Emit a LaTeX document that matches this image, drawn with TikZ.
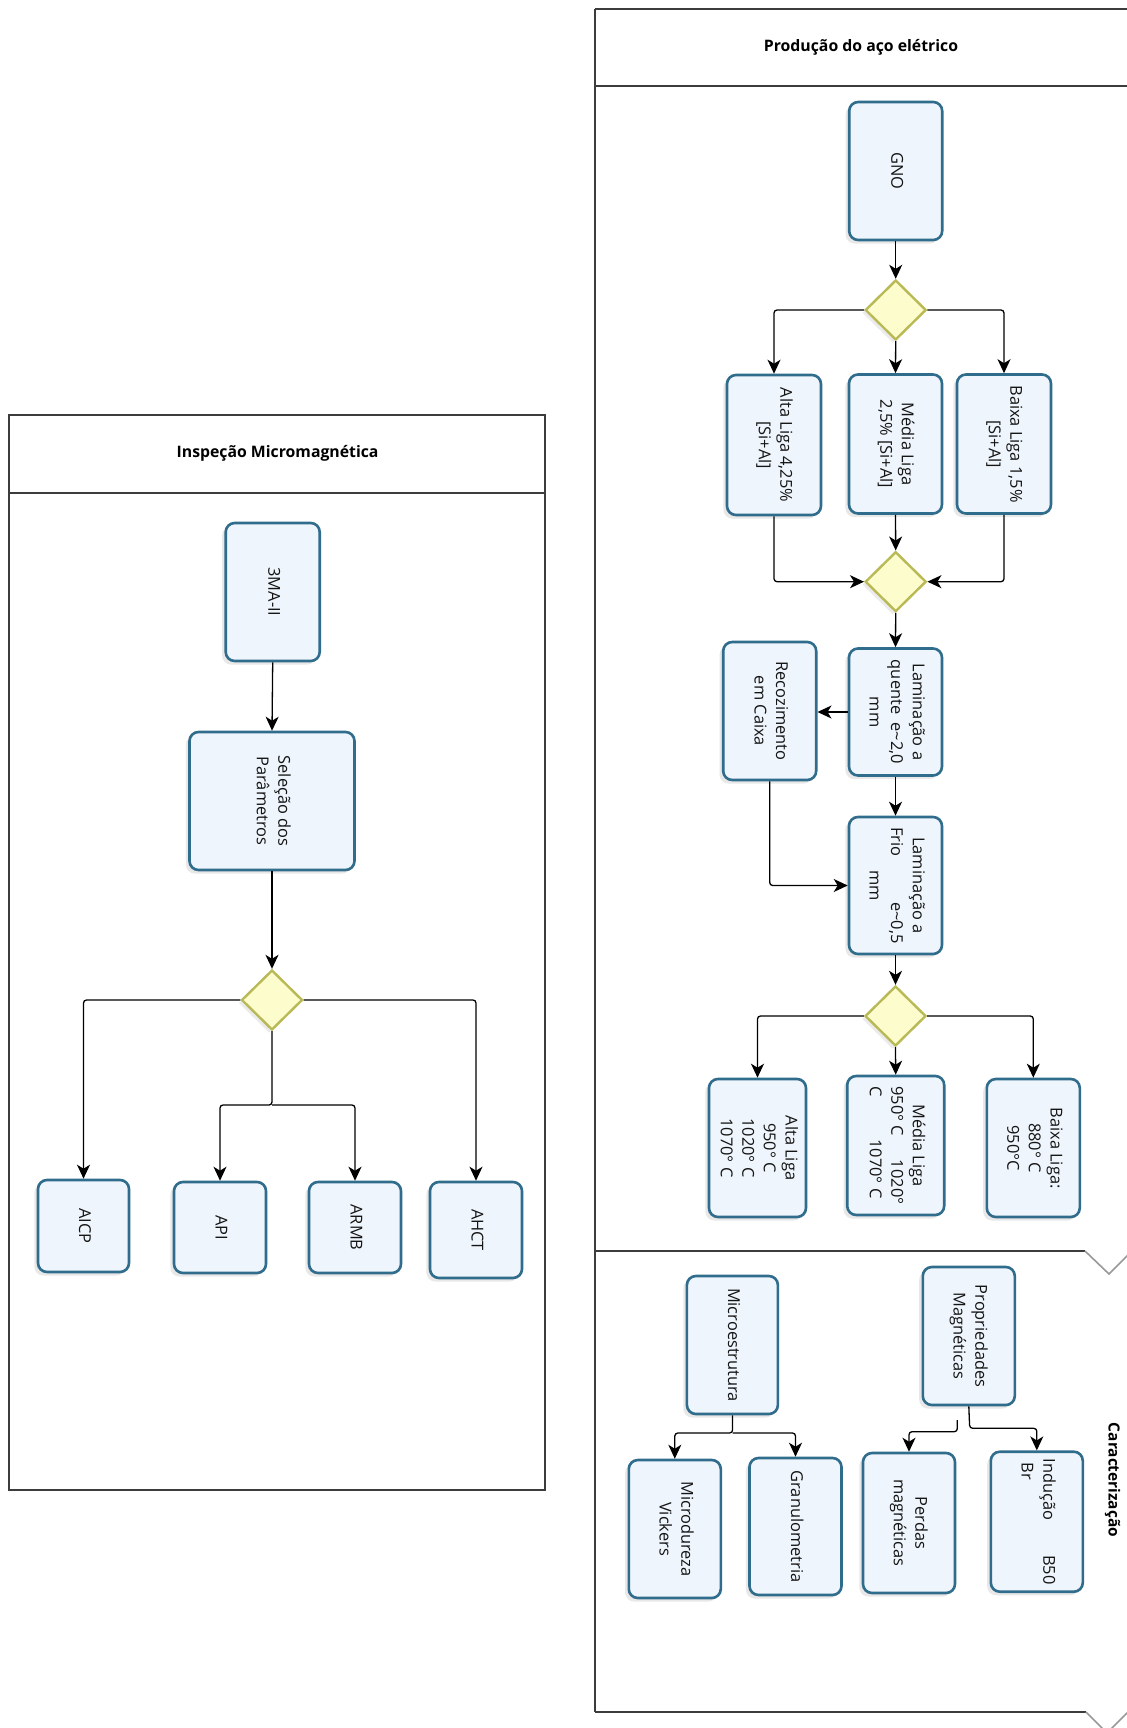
\documentclass[tikz,border=0pt]{standalone}
\usepackage{fontspec}
\usepackage{graphicx}
\setmainfont{Open Sans}
\usetikzlibrary{arrows.meta,shapes.geometric,shadows}
\definecolor{boxblue}{RGB}{48,108,140}
\definecolor{boxfill}{RGB}{238,245,252}
\definecolor{dmdline}{RGB}{185,185,85}
\definecolor{dmdfill}{RGB}{252,252,205}
\definecolor{lanegray}{RGB}{60,60,60}
\newcommand\vtxt[1]{\rotatebox{-90}{\begin{tabular}{@{}c@{}}#1\end{tabular}}}
\newcommand\vtxtl[1]{\rotatebox{-90}{\begin{tabular}{@{}l@{}}#1\end{tabular}}}
\tikzset{
  box/.style={draw=boxblue, line width=1.3pt, rounded corners=4.5pt, fill=boxfill,
    inner sep=0pt, font=\fontsize{8.2}{10.8}\selectfont, text=black!92,
    drop shadow={shadow xshift=-1.8pt, shadow yshift=-1.8pt, opacity=1, fill=black!9}},
  dmd/.style={diamond, draw=dmdline, line width=1.2pt, fill=dmdfill,
    minimum width=30.5pt, minimum height=30pt, inner sep=0pt,
    drop shadow={shadow xshift=-1.5pt, shadow yshift=-1.5pt, opacity=1, fill=black!8}},
  arr/.style={draw=black, line width=0.65pt, rounded corners=1.5pt,
    -{Stealth[length=7pt,width=6.5pt,inset=2pt]}},
  lane/.style={draw=lanegray, line width=1pt},
  chev/.style={draw=black!40, line width=0.8pt},
  ttl/.style={font=\bfseries\fontsize{7.9}{9}\selectfont, text=black}
}
\begin{document}
\begin{tikzpicture}[x=0.5pt,y=-0.5pt]
\useasboundingbox (0,0) rectangle (1127,1728);
\clip (0,0) rectangle (1127,1728);
\fill[white] (0,0) rectangle (1127,1728);

% ---------- left pool ----------
\draw[lane] (9,415) rectangle (545,1489.5);
\draw[lane] (9,492.5) -- (545,492.5);
\node[ttl] (tleft) at (277.6,453) {Inspeção Micromagnética};

\node[box, minimum width=47pt, minimum height=69pt] (ma) at (272.7,592) {\vtxt{3MA-II}};
\node[box, minimum width=82.5pt, minimum height=69pt] (sel) at (272,801) {\vtxt{Seleção dos\\Parâmetros}};
\node[dmd] (dl) at (272,1000) {};
\node[box, minimum width=45.5pt, minimum height=46pt] (aicp) at (83.5,1226) {\vtxt{AICP}};
\node[box, minimum width=46pt, minimum height=45.5pt] (api) at (220,1227.5) {\vtxt{API}};
\node[box, minimum width=46pt, minimum height=45.5pt] (armb) at (355,1227.5) {\vtxt{ARMB}};
\node[box, minimum width=46pt, minimum height=48pt] (ahct) at (476,1230) {\vtxt{AHCT}};
\coordinate (jl) at (272,1105);

\draw[arr] (ma.south) -- (sel.north);
\draw[arr] (sel.south) -- (dl.north);
\draw[arr] (dl.west) -| (aicp.north);
\draw[arr] (dl.east) -| (ahct.north);
\draw[arr] (dl.south) -- (jl) -| (api.north);
\draw[arr] (jl) -| (armb.north);

% ---------- right pool ----------
\draw[lane] (595,9) -- (1127,9);
\draw[lane] (595,9) -- (595,1712);
\draw[lane] (595,86) -- (1127,86);
\draw[lane] (595,1251) -- (1085,1251);
\draw[chev] (1085,1251) -- (1109,1274) -- (1130,1253);
\draw[lane] (595,1712) -- (1086,1712);
\draw[chev] (1086,1712) -- (1107,1733) -- (1128,1712);
\node[ttl] (tright) at (861,47.5) {Produção do aço elétrico};

\node[box, minimum width=46.5pt, minimum height=69pt] (gno) at (895.7,171) {\vtxt{GNO}};
\node[dmd] (da) at (895.7,310) {};
\node[box, minimum width=47pt, minimum height=70pt] (alta) at (774,445) {\vtxt{Alta Liga 4,25\%\\{[Si+Al]}}};
\node[box, minimum width=46.5pt, minimum height=69.5pt] (media) at (895.5,444) {\vtxt{Média Liga\\2,5\% [Si+Al]}};
\node[box, minimum width=47pt, minimum height=69.5pt] (baixa) at (1004,444) {\vtxt{Baixa Liga 1,5\%\\{[Si+Al]}}};
\node[dmd] (db) at (895.7,581.7) {};
\node[box, minimum width=46.5pt, minimum height=63.5pt] (lq) at (895.5,712) {\vtxt{Laminação a\\quente\ \ e\textasciitilde 2,0\\mm}};
\node[box, minimum width=46.5pt, minimum height=69pt] (rec) at (769.7,711) {\vtxt{Recozimento\\em Caixa}};
\node[box, minimum width=46.5pt, minimum height=68.5pt] (lf) at (895.5,885.5) {\vtxt{Laminação a\\\makebox[58pt]{Frio\hfill e\textasciitilde 0,5}\\mm}};
\node[dmd] (dc) at (895.5,1016) {};
\node[box, minimum width=48.5pt, minimum height=69pt] (alta2) at (757.5,1148) {\vtxt{Alta Liga\\950° C\\1020° C\\1070° C}};
\node[box, minimum width=48.5pt, minimum height=69.5pt] (media2) at (895.7,1145.5) {\vtxt{Média Liga\\\makebox[59pt]{950° C\hfill 1020°}\\\makebox[59pt][l]{C\hfill 1070° C\hspace{3pt}}}};
\node[box, minimum width=46.5pt, minimum height=69pt] (baixa2) at (1033.3,1148) {\vtxt{Baixa Liga:\\880° C\\950°C}};

\draw[arr] (gno.south) -- (da.north);
\draw[arr] (da.west) -| (alta.north);
\draw[arr] (da.east) -| (baixa.north);
\draw[arr] (da.south) -- (media.north);
\draw[arr] (alta.south) |- (db.west);
\draw[arr] (baixa.south) |- (db.east);
\draw[arr] (media.south) -- (db.north);
\draw[arr] (db.south) -- (lq.north);
\draw[arr] (lq.west) -- (lq.west -| rec.east);
\draw[arr] (lq.south) -- (lf.north);
\draw[arr] (rec.south) |- (lf.west);
\draw[arr] (lf.south) -- (dc.north);
\draw[arr] (dc.west) -| (alta2.north);
\draw[arr] (dc.east) -| (baixa2.north);
\draw[arr] (dc.south) -- (media2.north);

% ---------- Caracterizacao ----------
\node[font=\bfseries\fontsize{7.7}{9}\selectfont] (car) at (1112.6,1480) {\rotatebox{-90}{Caracterização}};
\node[box, minimum width=45.5pt, minimum height=69pt] (micro) at (732.4,1345) {\vtxt{Microestrutura}};
\node[box, minimum width=46pt, minimum height=69pt] (prop) at (968.8,1336) {\vtxt{Propriedades\\Magnéticas}};
\node[box, minimum width=46pt, minimum height=69pt] (mdur) at (674.8,1529) {\vtxt{Microdureza\\Vickers}};
\node[box, minimum width=46pt, minimum height=68.5pt] (gran) at (795.5,1526.5) {\vtxt{Granulometria}};
\node[box, minimum width=46pt, minimum height=70pt] (perd) at (909,1523) {\vtxt{Perdas\\magnéticas}};
\node[box, minimum width=46pt, minimum height=70pt] (ind) at (1036.8,1521.7) {\vtxtl{\makebox[63pt]{Indução\hfill B50}\\\ Br}};
\coordinate (jm) at (732.6,1433);
\coordinate (jp) at (969.7,1428.3);
\coordinate (pf) at (957.3,1420);
\coordinate (pk) at (957.3,1431.7);

\draw[arr] (micro.south) -- (jm) -| (mdur.north);
\draw[arr] (jm) -| (gran.north);
\draw[arr] (prop.south) -- (jp) -| (ind.north);
\draw[arr] (pf) -- (pk) -| (perd.north);
\end{tikzpicture}
\end{document}
